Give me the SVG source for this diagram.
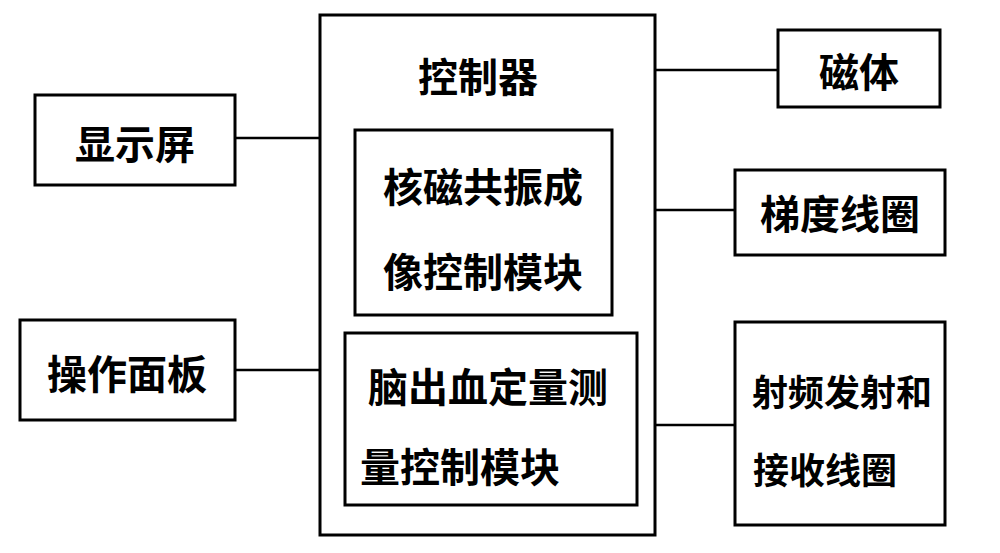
<svg xmlns="http://www.w3.org/2000/svg" width="1000" height="553" viewBox="0 0 1000 553">
<style>
rect{fill:none;stroke:#000;stroke-width:3}
line{stroke:#000;stroke-width:2.5}
text{font-family:"Noto Sans CJK SC",sans-serif;font-weight:bold;font-size:40px;fill:#000;text-anchor:middle;dominant-baseline:central}
</style>
<rect x="0" y="0" width="1000" height="553" style="fill:#fff;stroke:none"/>
<g id="connectors">
<line x1="235" y1="138" x2="320" y2="138"/>
<line x1="235" y1="370" x2="320" y2="370"/>
<line x1="655" y1="70" x2="778" y2="70"/>
<line x1="655" y1="210" x2="735" y2="210"/>
<line x1="655" y1="425" x2="735" y2="425"/>
</g>
<g id="controller"><rect x="320" y="15" width="335" height="520"/><text x="478" y="75">控制器</text></g>
<g id="mri"><rect x="355" y="130" width="257" height="185"/><text x="483" y="185">核磁共振成</text><text x="483" y="270">像控制模块</text></g>
<g id="ich"><rect x="345" y="333" width="292" height="172"/><text x="488" y="385">脑出血定量测</text><text x="460" y="465">量控制模块</text></g>
<g id="display"><rect x="35" y="95" width="200" height="90"/><text x="135" y="142">显示屏</text></g>
<g id="panel"><rect x="20" y="320" width="215" height="100"/><text x="127" y="372">操作面板</text></g>
<g id="magnet"><rect x="778" y="30" width="162" height="77"/><text x="859" y="70">磁体</text></g>
<g id="gradient"><rect x="735" y="170" width="210" height="85"/><text x="840" y="212">梯度线圈</text></g>
<g id="rf"><rect x="735" y="322" width="210" height="203"/><text x="842" y="390" style="font-size:36px">射频发射和</text><text x="825" y="468" style="font-size:36px">接收线圈</text></g>
</svg>
